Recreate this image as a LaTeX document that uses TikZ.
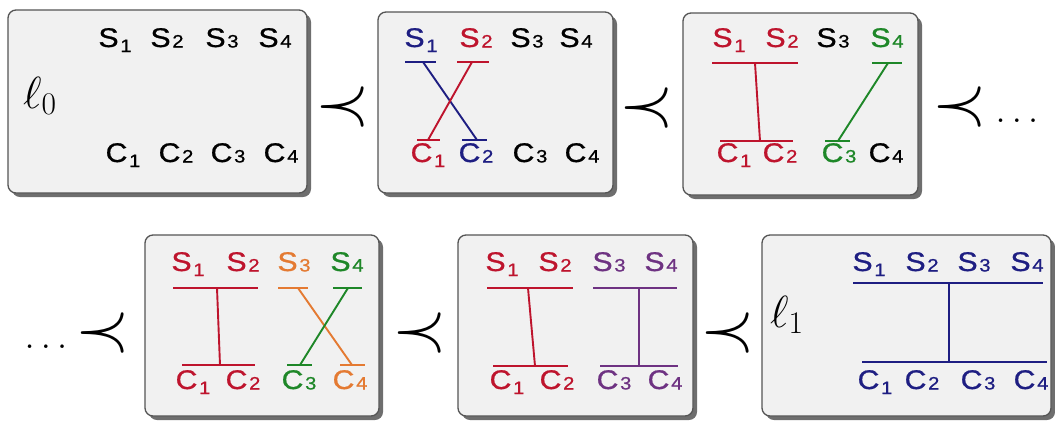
\RequirePackage{fix-cm}
\documentclass[tikz,border=0pt]{standalone}
\usepackage{fontspec}
\setmainfont{Liberation Sans}
\newfontfamily\labfont{Liberation Sans}[FakeBold=0.7]
\definecolor{nblue}{RGB}{30,30,130}
\definecolor{nred}{RGB}{190,20,45}
\definecolor{ngreen}{RGB}{30,135,40}
\definecolor{norange}{RGB}{228,122,50}
\definecolor{npurple}{RGB}{110,50,130}
\definecolor{boxfill}{RGB}{241,241,241}
\definecolor{boxline}{RGB}{85,85,85}
\definecolor{shadowc}{RGB}{110,110,110}
\newcommand{\idxnum}[1]{\kern1.5pt\ifnum#1=1\relax\raisebox{-5pt}{\fontsize{18}{18}\selectfont #1}\else\raisebox{-0.5pt}{\fontsize{18}{18}\selectfont #1}\fi}
\newcommand{\wlab}[2]{\scalebox{1.12}[1]{#1\idxnum{#2}}}
\tikzset{
  panel/.style={draw=boxline, line width=1.3pt, fill=boxfill, rounded corners=8pt},
  panelshadow/.style={fill=shadowc, rounded corners=8pt},
  lab/.style={font=\labfont\fontsize{27}{29}\selectfont, inner sep=0pt, anchor=base},
  conn/.style={line width=1.9pt},
  precsym/.style={font=\fontsize{70}{70}\selectfont, inner sep=0pt},
  dotsym/.style={font=\fontsize{37}{37}\selectfont, inner sep=0pt, anchor=base},
  ellsym/.style={font=\fontsize{45}{45}\selectfont, inner sep=0pt, anchor=base west}
}
\begin{document}
\begin{tikzpicture}[x=1pt,y=-1pt]
\useasboundingbox (0,0) rectangle (1055,421);
% ---------- panels ----------
\foreach \xa/\ya/\xb/\yb in {8/10/307/193, 378/12/613/193, 683/13/918/195,
                             145/235/379/416, 458/235/693/416, 762/235/1051/416}{
  \fill[panelshadow] (\xa+4,\ya+4) rectangle (\xb+4,\yb+4);
  \draw[panel] (\xa,\ya) rectangle (\xb,\yb);
}
% ---------- panel A (l0) ----------
\node[ellsym] (l0) at (23,108) {$\ell_0$};
\foreach \x/\i in {115/1,167/2,222/3,275/4}
  \node[lab] (a-s\i) at (\x,47) {\wlab{S}{\i}};
\foreach \x/\i in {123/1,176/2,228/3,281/4}
  \node[lab] (a-c\i) at (\x,162) {\wlab{C}{\i}};
% ---------- panel B ----------
\foreach \x/\i/\c in {421/1/nblue,476/2/nred,527/3/black,576/4/black}
  \node[lab,text=\c] (b-s\i) at (\x,47) {\wlab{S}{\i}};
\foreach \x/\i/\c in {428/1/nred,476/2/nblue,530/3/black,582/4/black}
  \node[lab,text=\c] (b-c\i) at (\x,162) {\wlab{C}{\i}};
\draw[conn,nblue] (405,62) -- (436,62);
\draw[conn,nblue] (462,140) -- (487,140);
\draw[conn,nblue] (423,62) -- (477,140);
\draw[conn,nred] (457,62) -- (489,62);
\draw[conn,nred] (417,140) -- (440,140);
\draw[conn,nred] (472,62) -- (428,140);
% ---------- panel C ----------
\foreach \x/\i/\c in {729/1/nred,782/2/nred,833/3/black,887/4/ngreen}
  \node[lab,text=\c] (c-s\i) at (\x,47) {\wlab{S}{\i}};
\foreach \x/\i/\c in {734/1/nred,780/2/nred,839/3/ngreen,886/4/black}
  \node[lab,text=\c] (c-c\i) at (\x,162) {\wlab{C}{\i}};
\draw[conn,nred] (712,63) -- (798,63);
\draw[conn,nred] (720,141) -- (793,141);
\draw[conn,nred] (755,63) -- (760,141);
\draw[conn,ngreen] (872,63) -- (902,63);
\draw[conn,ngreen] (825,141) -- (850,141);
\draw[conn,ngreen] (888,63) -- (838,141);
% ---------- panel D ----------
\foreach \x/\i/\c in {188/1/nred,243/2/nred,294/3/norange,347/4/ngreen}
  \node[lab,text=\c] (d-s\i) at (\x,271) {\wlab{S}{\i}};
\foreach \x/\i/\c in {193/1/nred,243/2/nred,299/3/ngreen,350/4/norange}
  \node[lab,text=\c] (d-c\i) at (\x,389) {\wlab{C}{\i}};
\draw[conn,nred] (173,288) -- (258,288);
\draw[conn,nred] (182,365) -- (255,365);
\draw[conn,nred] (217,288) -- (220,365);
\draw[conn,norange] (278,288) -- (308,288);
\draw[conn,norange] (340,365) -- (365,365);
\draw[conn,norange] (298,288) -- (352,365);
\draw[conn,ngreen] (333,288) -- (362,288);
\draw[conn,ngreen] (287,365) -- (312,365);
\draw[conn,ngreen] (348,288) -- (300,365);
% ---------- panel E ----------
\foreach \x/\i/\c in {502/1/nred,555/2/nred,609/3/npurple,661/4/npurple}
  \node[lab,text=\c] (e-s\i) at (\x,271) {\wlab{S}{\i}};
\foreach \x/\i/\c in {507/1/nred,557/2/nred,614/3/npurple,665/4/npurple}
  \node[lab,text=\c] (e-c\i) at (\x,389) {\wlab{C}{\i}};
\draw[conn,nred] (487,288) -- (573,288);
\draw[conn,nred] (493,366) -- (568,366);
\draw[conn,nred] (528,288) -- (535,366);
\draw[conn,npurple] (593,288) -- (677,288);
\draw[conn,npurple] (600,366) -- (678,366);
\draw[conn,npurple] (639,288) -- (639,366);
% ---------- panel F (l1) ----------
\node[ellsym] (l1) at (770,327) {$\ell_1$};
\foreach \x/\i in {869/1,922/2,974/3,1027/4}
  \node[lab,text=nblue] (f-s\i) at (\x,271) {\wlab{S}{\i}};
\foreach \x/\i in {875/1,922/2,978/3,1031/4}
  \node[lab,text=nblue] (f-c\i) at (\x,389) {\wlab{C}{\i}};
\draw[conn,nblue] (853,283) -- (1043,283);
\draw[conn,nblue] (862,362) -- (1047,362);
\draw[conn,nblue] (949,283) -- (949,362);
% ---------- precedence symbols ----------
\node[precsym] (p1) at (343,107) {$\prec$};
\node[precsym] (p2) at (647,108) {$\prec$};
\node[precsym] (p3) at (960,107) {$\prec$};
\node[dotsym] (d1) at (1017,122) {$\ldots$};
\node[dotsym] (d2) at (46,348) {$\ldots$};
\node[precsym] (p4) at (103,333) {$\prec$};
\node[precsym] (p5) at (420,333) {$\prec$};
\node[precsym] (p6) at (728,333) {$\prec$};
\end{tikzpicture}
\end{document}
